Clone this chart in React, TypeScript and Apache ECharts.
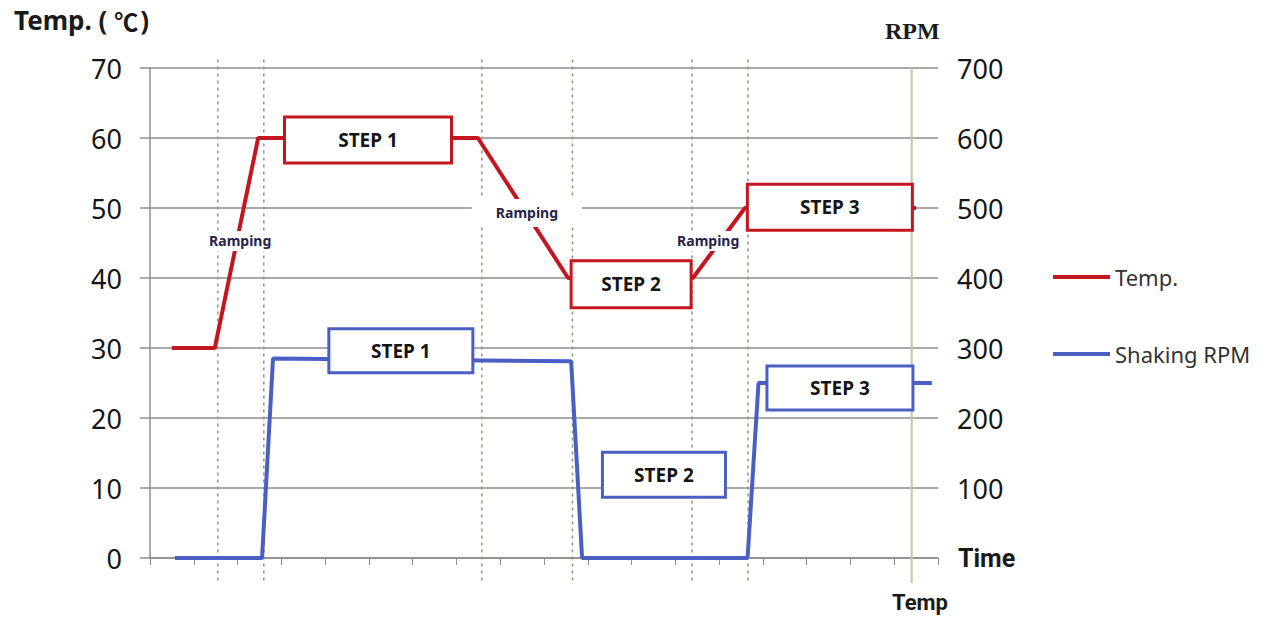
import React, { useEffect, useRef } from "react";
import * as echarts from "echarts";

// ---- data (x = time units, left axis = Temp °C, right axis = RPM) ----
const tempPoints: [number, number][] = [
  [0.5, 30], [1.48, 30], [2.47, 60], [7.49, 60], [9.55, 40], [12.4, 40], [13.59, 50], [17.5, 50],
];
const rpmPoints: [number, number][] = [
  [0.57, 0], [2.56, 0], [2.81, 285], [9.62, 281], [9.87, 0], [13.65, 0], [13.9, 250], [17.86, 250],
];
const phaseLines = [1.55, 2.6, 7.58, 9.65, 12.38, 13.66];
const endLine = 17.4;
const tempSteps: [number, number, string][] = [
  [4.98, 59.7, "STEP 1"], [10.99, 39.1, "STEP 2"], [15.53, 50.1, "STEP 3"],
];
const rpmSteps: [number, number, string][] = [
  [5.73, 296, "STEP 1"], [11.74, 119, "STEP 2"], [15.76, 243, "STEP 3"],
];
const rampLabels: [number, number, string][] = [
  [2.06, 45.3, "Ramping"], [8.61, 49.3, "Ramping"], [12.75, 45.3, "Ramping"],
];
const tempTicks = [0, 10, 20, 30, 40, 50, 60, 70];
const rpmTicks = [0, 100, 200, 300, 400, 500, 600, 700];
const timeTicks = [0, 18];

const RED = "#c3161e";
const BLUE = "#4a5fc4";
const GRID = "#8e8e8e";
const SANS = "'Noto Sans', 'Noto Sans CJK SC', sans-serif";

const tempBoxSizes = [[164, 43], [117, 44], [162, 43]];
const rpmBoxSizes = [[141, 41], [120, 42], [143, 41]];
const rampPads = [[3, 3], [7, 24], [3, 3]];

export default function App() {
  const ref = useRef<HTMLDivElement>(null);
  useEffect(() => {
    if (!ref.current) return;
    const chart = echarts.init(ref.current, null, { renderer: "svg" });

    const boxLabel = (color: string, size: number[]) => ({
      show: true,
      position: "inside",
      formatter: (p: any) => p.value[2],
      color: "#151515",
      fontFamily: SANS,
      fontWeight: "bold",
      fontSize: 19,
      backgroundColor: "#ffffff",
      borderColor: color,
      borderWidth: 3,
      width: size[0],
      height: size[1],
      lineHeight: size[1],
      align: "center",
      verticalAlign: "middle",
      padding: 0,
    });

    const guideData = [
      ...phaseLines.map((x) => ({ value: [x, 0] })),
      { value: [endLine, 1] },
    ];

    chart.setOption({
      animation: false,
      backgroundColor: "#ffffff",
      grid: { left: 150, right: 334, top: 68, bottom: 60, containLabel: false },
      legend: {
        data: ["Temp.", "Shaking RPM"],
        orient: "vertical",
        left: 1048,
        top: 259,
        itemGap: 51,
        itemWidth: 57,
        itemHeight: 4,
        icon: "rect",
        textStyle: { fontFamily: SANS, fontSize: 22, color: "#333", lineHeight: 26 },
      },
      graphic: [
        {
          type: "text",
          left: 14,
          top: 7,
          style: {
            text: "{a|Temp. (}{b|℃}{a|)}",
            rich: {
              a: { fontFamily: SANS, fontWeight: "bold", fontSize: 26, fill: "#1a1a1a" },
              b: { fontFamily: "'Noto Sans CJK SC', sans-serif", fontWeight: "bold", fontSize: 24, fill: "#1a1a1a", padding: [0, 2, 0, 7] },
            },
          },
        },
        {
          type: "text",
          left: 885,
          top: 19,
          style: { text: "RPM", fontFamily: "'Liberation Serif', serif", fontWeight: "bold", fontSize: 24, fill: "#1a1a1a" },
        },
        {
          type: "text",
          left: 892,
          top: 591,
          style: { text: "Temp", fontFamily: "Roboto, sans-serif", fontWeight: "bold", fontSize: 22, fill: "#1a1a1a" },
        },
      ],
      xAxis: {
        type: "value",
        min: timeTicks[0],
        max: timeTicks[1],
        interval: 1,
        name: "Time",
        nameLocation: "end",
        nameGap: 20,
        nameTextStyle: { fontFamily: "Roboto, sans-serif", fontWeight: "bold", fontSize: 25, color: "#1a1a1a", verticalAlign: "middle" },
        axisLine: { show: true, lineStyle: { color: GRID, width: 1.5 } },
        axisTick: { show: true, length: 7, lineStyle: { color: GRID, width: 1 } },
        axisLabel: { show: false },
        splitLine: { show: false },
      },
      yAxis: [
        {
          type: "value",
          min: tempTicks[0],
          max: tempTicks[tempTicks.length - 1],
          interval: tempTicks[1] - tempTicks[0],
          axisLine: { show: true, lineStyle: { color: GRID, width: 1.5 } },
          axisTick: { show: true, length: 10, lineStyle: { color: GRID, width: 1.5 } },
          axisLabel: { fontFamily: SANS, fontSize: 27, color: "#161616", margin: 28 },
          splitLine: { show: true, lineStyle: { color: GRID, width: 1.5 } },
        },
        {
          type: "value",
          min: rpmTicks[0],
          max: rpmTicks[rpmTicks.length - 1],
          interval: rpmTicks[1] - rpmTicks[0],
          position: "right",
          axisLine: { show: false },
          axisTick: { show: false },
          axisLabel: {
            fontFamily: SANS,
            fontSize: 27,
            color: "#161616",
            margin: 19,
            formatter: (v: number) => (v === rpmTicks[0] ? "" : String(v)),
          },
          splitLine: { show: false },
        },
      ],
      series: [
        {
          name: "guides",
          type: "custom",
          xAxisIndex: 0,
          yAxisIndex: 0,
          z: 1,
          clip: false,
          silent: true,
          data: guideData,
          renderItem: (params: any, api: any) => {
            const x = api.value(0);
            const isEnd = api.value(1) === 1;
            const top = api.coord([x, isEnd ? 70 : 71.2]);
            const bottom = api.coord([x, -3.6]);
            return {
              type: "line",
              shape: { x1: top[0], y1: top[1], x2: bottom[0], y2: bottom[1] },
              style: isEnd
                ? { stroke: "#c9c5a2", lineWidth: 2 }
                : { stroke: "#9a9980", lineWidth: 1.6, lineDash: [3, 4] },
            };
          },
        },
        {
          name: "Temp.",
          type: "line",
          yAxisIndex: 0,
          data: tempPoints,
          symbol: "none",
          z: 3,
          color: RED,
          lineStyle: { color: RED, width: 4 },
        },
        {
          name: "Shaking RPM",
          type: "line",
          yAxisIndex: 1,
          data: rpmPoints,
          symbol: "none",
          z: 3,
          color: BLUE,
          lineStyle: { color: BLUE, width: 4 },
        },
        {
          name: "tempSteps",
          type: "scatter",
          yAxisIndex: 0,
          symbolSize: 0,
          itemStyle: { opacity: 1 },
          z: 5,
          silent: true,
          data: tempSteps.map((d, i) => ({ value: d, label: boxLabel(RED, tempBoxSizes[i]) })),
        },
        {
          name: "rpmSteps",
          type: "scatter",
          yAxisIndex: 1,
          symbolSize: 0,
          itemStyle: { opacity: 1 },
          z: 5,
          silent: true,
          data: rpmSteps.map((d, i) => ({ value: d, label: boxLabel(BLUE, rpmBoxSizes[i]) })),
        },
        {
          name: "ramps",
          type: "scatter",
          yAxisIndex: 0,
          symbolSize: 0,
          itemStyle: { opacity: 1 },
          z: 5,
          silent: true,
          data: rampLabels.map((d, i) => ({
            value: d,
            label: {
              show: true,
              position: "inside",
              formatter: (p: any) => p.value[2],
              color: "#24244a",
              fontFamily: SANS,
              fontWeight: "bold",
              fontSize: 14,
              backgroundColor: "#ffffff",
              padding: rampPads[i],
            },
          })),
        },
      ],
    });
    return () => chart.dispose();
  }, []);
  return (
    <div
      ref={ref}
      style={{ position: "fixed", left: 0, top: 0, width: 1272, height: 618, background: "#fff" }}
    />
  );
}
